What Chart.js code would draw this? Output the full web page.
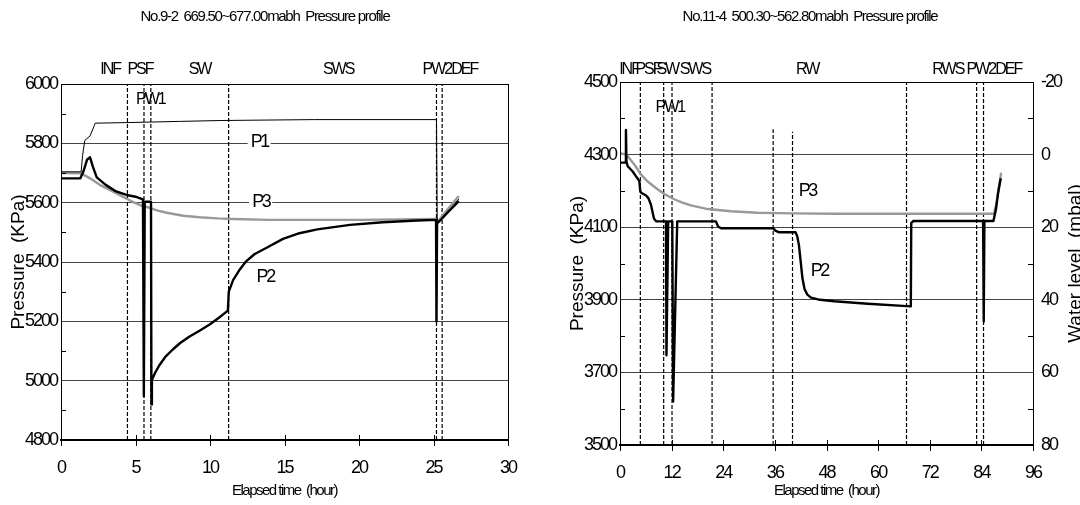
<!DOCTYPE html>
<html>
<head>
<meta charset="utf-8">
<script src="https://cdn.jsdelivr.net/npm/chart.js@4.4.1/dist/chart.umd.min.js"></script>
<style>
  html, body { margin: 0; padding: 0; background: #fff; }
  #wrap { position: relative; width: 1080px; height: 505px; overflow: hidden; }
  .pane { position: absolute; top: 0; width: 540px; height: 505px; }
</style>
</head>
<body>
<div id="wrap">
  <div class="pane" style="left:0"><canvas id="c92"></canvas></div>
  <div class="pane" style="left:540px"><canvas id="c114"></canvas></div>
</div>
<script>
// Packer test pressure profiles, two intervals. Times in hours, pressures in kPa.

// --- No.9-2 (669.50~677.00 mabh) ------------------------------------------
const T92_P1 = [0, 1.35, 1.45, 1.6, 1.95, 2.3, 4.5, 8, 10.8, 17, 25.2, 25.25, 25.4, 26.7];
const P92_P1 = [5704, 5704, 5760, 5810, 5825, 5868, 5870, 5874, 5877, 5880, 5880, 5542, 5538, 5612];

const T92_P2 = [0, 1.3, 1.5, 1.75, 1.95, 2.15, 2.4, 3.0, 3.7, 4.4, 5.0, 5.5, 5.56, 5.62, 6.04, 6.07, 6.1,
  6.3, 6.6, 7.0, 7.5, 8.0, 8.6, 9.3, 10.0, 10.6, 11.2, 11.26, 11.55, 12.0, 12.4, 13.0, 13.8, 14.9, 16.0, 17.2,
  19.4, 21.6, 23.9, 25.17, 25.2, 25.24, 25.35, 26.0, 26.7];
const P92_P2 = [5682, 5682, 5705, 5745, 5753, 5720, 5685, 5660, 5638, 5626, 5620, 5611, 4948, 5603, 5603, 4920, 5002,
  5025, 5052, 5080, 5105, 5127, 5148, 5168, 5190, 5212, 5236, 5300, 5339, 5375, 5401, 5427, 5448, 5478, 5497, 5510,
  5525, 5534, 5540, 5542, 5200, 5530, 5535, 5570, 5605];

const T92_P3 = [0, 1.3, 1.6, 1.95, 2.6, 3.2, 3.7, 4.3, 4.8, 5.4, 6.0, 6.5, 7.1, 8.2, 9.3, 10.5, 11.5, 14, 20, 25.2,
  25.35, 26.0, 26.7];
const P92_P3 = [5700, 5699, 5692, 5682, 5660, 5645, 5632, 5616, 5603, 5590, 5582, 5573, 5566, 5556, 5551, 5547, 5545,
  5542, 5542, 5545, 5540, 5580, 5622];

// step change times (dashed markers)
const EV92 = [4.46, 5.57, 6.03, 11.25, 25.2, 25.58];

// --- No.11-4 (500.30~562.80 mabh) -----------------------------------------
const T114_P2 = [0, 1.3, 1.38, 1.5, 1.8, 2.9, 4.5, 4.7, 4.9, 6.0, 6.6, 7.2, 7.6, 7.9, 8.4, 10.7, 10.8, 11.2, 12.15,
  12.35, 13.3, 22.3, 22.8, 23.5, 35.6, 36.2, 37.0, 40.8, 41.2, 41.6, 42.0, 42.4, 42.9, 43.5, 44.4, 46.5, 49.8, 57.6,
  67.6, 67.7, 68.2, 84.4, 84.55, 84.7, 86.8, 87.4, 87.9, 88.5];
const P114_P2 = [4278, 4278, 4368, 4280, 4268, 4254, 4227, 4200, 4195, 4188, 4180, 4162, 4140, 4124, 4116, 4116, 3747,
  4116, 4116, 3620, 4116, 4116, 4102, 4097, 4097, 4090, 4086, 4086, 4075, 4050, 4005, 3960, 3930, 3915, 3906, 3900,
  3896, 3889, 3882, 4112, 4117, 4117, 3840, 4117, 4117, 4150, 4195, 4235];

const T114_P3 = [0, 1.5, 2.5, 3.5, 4.9, 6.5, 8.8, 10.5, 12.6, 14.5, 16.5, 20.4, 25.8, 32, 40, 50, 60, 70, 80, 86.9,
  87.4, 88.0, 88.6];
const P114_P3 = [4304, 4300, 4285, 4270, 4245, 4225, 4204, 4190, 4177, 4168, 4160, 4150, 4144, 4140, 4138, 4137, 4137,
  4137, 4137, 4137, 4160, 4205, 4250];

const EV114 = [4.73, 10.15, 12.09, 21.4, 35.6, 40.1, 66.6, 82.9, 84.5];
const EV114_TOP = [4500, 4500, 4500, 4500, 4370, 4363, 4500, 4500, 4500];

// --- styling ----------------------------------------------------------------
const NARROW = '"Liberation Sans Narrow", "Arial Narrow", "Liberation Sans", Arial, sans-serif';
const WIDE = '"Liberation Sans", Arial, sans-serif';
const GREY = "#999999";

const xy = (ts, vs) => ts.map((t, i) => ({ x: t, y: vs[i] }));

function trace(data, color, width) {
  return { data, borderColor: color, borderWidth: width, pointRadius: 0, tension: 0, fill: false, borderJoinStyle: "round" };
}
function markers(ts, lo, hi) {
  return ts.map((t, i) => ({
    data: [{ x: t, y: lo }, { x: t, y: Array.isArray(hi) ? hi[i] : hi }],
    borderColor: "#000", borderWidth: 1.2, borderDash: [4, 2], pointRadius: 0, order: 5,
  }));
}

// box, crossing ticks, minor ticks and all free text
const decor = {
  id: "decor",
  beforeDraw(chart) { chart.ctx.letterSpacing = "-2px"; },
  afterDraw(chart, args, o) {
    const { ctx, chartArea: a, scales } = chart;
    ctx.save();
    ctx.strokeStyle = "#000";
    ctx.lineWidth = 1;
    ctx.strokeRect(a.left + 0.5, a.top + 0.5, a.width, a.height);

    ctx.beginPath();
    scales.x.ticks.forEach((t) => {
      const px = Math.round(scales.x.getPixelForValue(t.value)) + 0.5;
      ctx.moveTo(px, a.bottom - 5); ctx.lineTo(px, a.bottom + 6);
    });
    const yt = scales.y.ticks;
    for (let i = 0; i < yt.length - 1; i++) {
      const py = Math.round(scales.y.getPixelForValue((yt[i].value + yt[i + 1].value) / 2)) + 0.5;
      ctx.moveTo(a.left, py); ctx.lineTo(a.left + 5, py);
    }
    if (scales.y2) {
      const rt = scales.y2.ticks;
      for (let i = 0; i < rt.length - 1; i++) {
        const py = Math.round(scales.y2.getPixelForValue((rt[i].value + rt[i + 1].value) / 2)) + 0.5;
        ctx.moveTo(a.right - 5, py); ctx.lineTo(a.right, py);
      }
    }
    ctx.stroke();

    const text = (s, x, y, font, spacing, rot, bg) => {
      ctx.save();
      ctx.font = font;
      ctx.letterSpacing = spacing;
      ctx.textAlign = "center";
      ctx.textBaseline = "middle";
      ctx.translate(x, y);
      if (rot) ctx.rotate(rot);
      if (bg) {
        const w = ctx.measureText(s).width;
        ctx.fillStyle = "#fff";
        ctx.fillRect(-w / 2 - 3, -8, w + 6, 16);
      }
      ctx.fillStyle = "#000";
      ctx.fillText(s, 0, 0);
      ctx.restore();
    };

    text(o.title, o.titleX, 17, "15px " + NARROW, "-1.3px");
    o.phases.forEach(([s, h, y]) => text(s, scales.x.getPixelForValue(h), y, "16px " + NARROW, "-2px"));
    o.notes.forEach(([s, h, v]) =>
      text(s, scales.x.getPixelForValue(h), scales.y.getPixelForValue(v), "18px " + NARROW, "-2.5px", 0, true));
    text("Elapsed time  (hour)", (a.left + a.right) / 2, 491, "15px " + NARROW, "-1.5px");
    text("Pressure  (KPa)", o.yTitleX, (a.top + a.bottom) / 2, "19px " + WIDE, "0px", -Math.PI / 2);
    if (o.y2Title) text(o.y2Title, o.y2TitleX, (a.top + a.bottom) / 2, "19px " + WIDE, "0px", -Math.PI / 2);
    ctx.restore();
  },
};

const tickFont = { family: NARROW, size: 18 };
const plain = (v) => String(v);

function baseScales(xmax, xstep, ymin, ymax, yWidth, xHeight) {
  return {
    x: {
      type: "linear", min: 0, max: xmax,
      ticks: { stepSize: xstep, font: tickFont, color: "#000", padding: 17, autoSkip: false, maxRotation: 0, callback: plain },
      grid: { drawOnChartArea: false, drawTicks: false },
      border: { color: "#000", width: 2 },
      afterFit: (s) => { s.height = xHeight; },
    },
    y: {
      min: ymin, max: ymax,
      ticks: { stepSize: 200, font: tickFont, color: "#000", padding: 4, callback: plain },
      grid: { color: "#444", lineWidth: 1, drawTicks: false },
      border: { color: "#000", width: 1 },
      afterFit: (s) => { s.width = yWidth; },
    },
  };
}

// --- No.9-2 ------------------------------------------------------------------
new Chart(document.getElementById("c92"), {
  type: "line",
  data: {
    datasets: [
      trace(xy(T92_P2, P92_P2), "#000", 2.4),
      trace(xy(T92_P1, P92_P1), "#000", 1),
      trace(xy(T92_P3, P92_P3), GREY, 2.4),
      ...markers(EV92, 4800, 6000),
    ],
  },
  options: {
    responsive: true, maintainAspectRatio: false, animation: false, devicePixelRatio: 1,
    layout: { padding: { top: 84, right: 32, left: 0, bottom: 0 } },
    scales: baseScales(30, 5, 4800, 6000, 61, 65),
    plugins: {
      legend: { display: false }, tooltip: { enabled: false },
      decor: {
        title: "No.9-2  669.50~677.00mabh  Pressure profile", titleX: 265,
        phases: [["INF", 3.3, 70], ["PSF", 5.3, 70], ["SW", 9.3, 70], ["SWS", 18.6, 70], ["PW2DEF", 26.1, 70], ["PW1", 6.0, 100]],
        notes: [["P1", 13.3, 5805], ["P3", 13.4, 5602], ["P2", 13.7, 5350]],
        yTitleX: 19,
      },
    },
  },
  plugins: [decor],
});

// --- No.11-4 -----------------------------------------------------------------
const s114 = baseScales(96, 12, 3500, 4500, 80, 60);
s114.y2 = {
  position: "right", min: -20, max: 80, reverse: true,
  ticks: { stepSize: 20, font: tickFont, color: "#000", padding: 8, callback: plain },
  grid: { drawOnChartArea: false, drawTicks: false },
  border: { color: "#000", width: 1 },
  afterFit: (s) => { s.width = 47; },
};

new Chart(document.getElementById("c114"), {
  type: "line",
  data: {
    datasets: [
      trace(xy(T114_P2, P114_P2), "#000", 2.4),
      trace(xy(T114_P3, P114_P3), GREY, 2.4),
      ...markers(EV114, 3500, EV114_TOP),
    ],
  },
  options: {
    responsive: true, maintainAspectRatio: false, animation: false, devicePixelRatio: 1,
    layout: { padding: { top: 82, right: 0, left: 0, bottom: 0 } },
    scales: s114,
    plugins: {
      legend: { display: false }, tooltip: { enabled: false },
      decor: {
        title: "No.11-4  500.30~562.80mabh  Pressure profile", titleX: 270,
        phases: [["INF", 2.1, 70], ["PSF", 6.5, 70], ["SW", 11.0, 70], ["SWS", 17.4, 70], ["RW", 43.5, 70],
          ["RWS", 76.2, 70], ["PW2DEF", 86.9, 70], ["PW1", 11.6, 108]],
        notes: [["P3", 43.5, 4200], ["P2", 46.3, 3978]],
        yTitleX: 38, y2Title: "Water level  (mbal)", y2TitleX: 536,
      },
    },
  },
  plugins: [decor],
});
</script>
</body>
</html>
